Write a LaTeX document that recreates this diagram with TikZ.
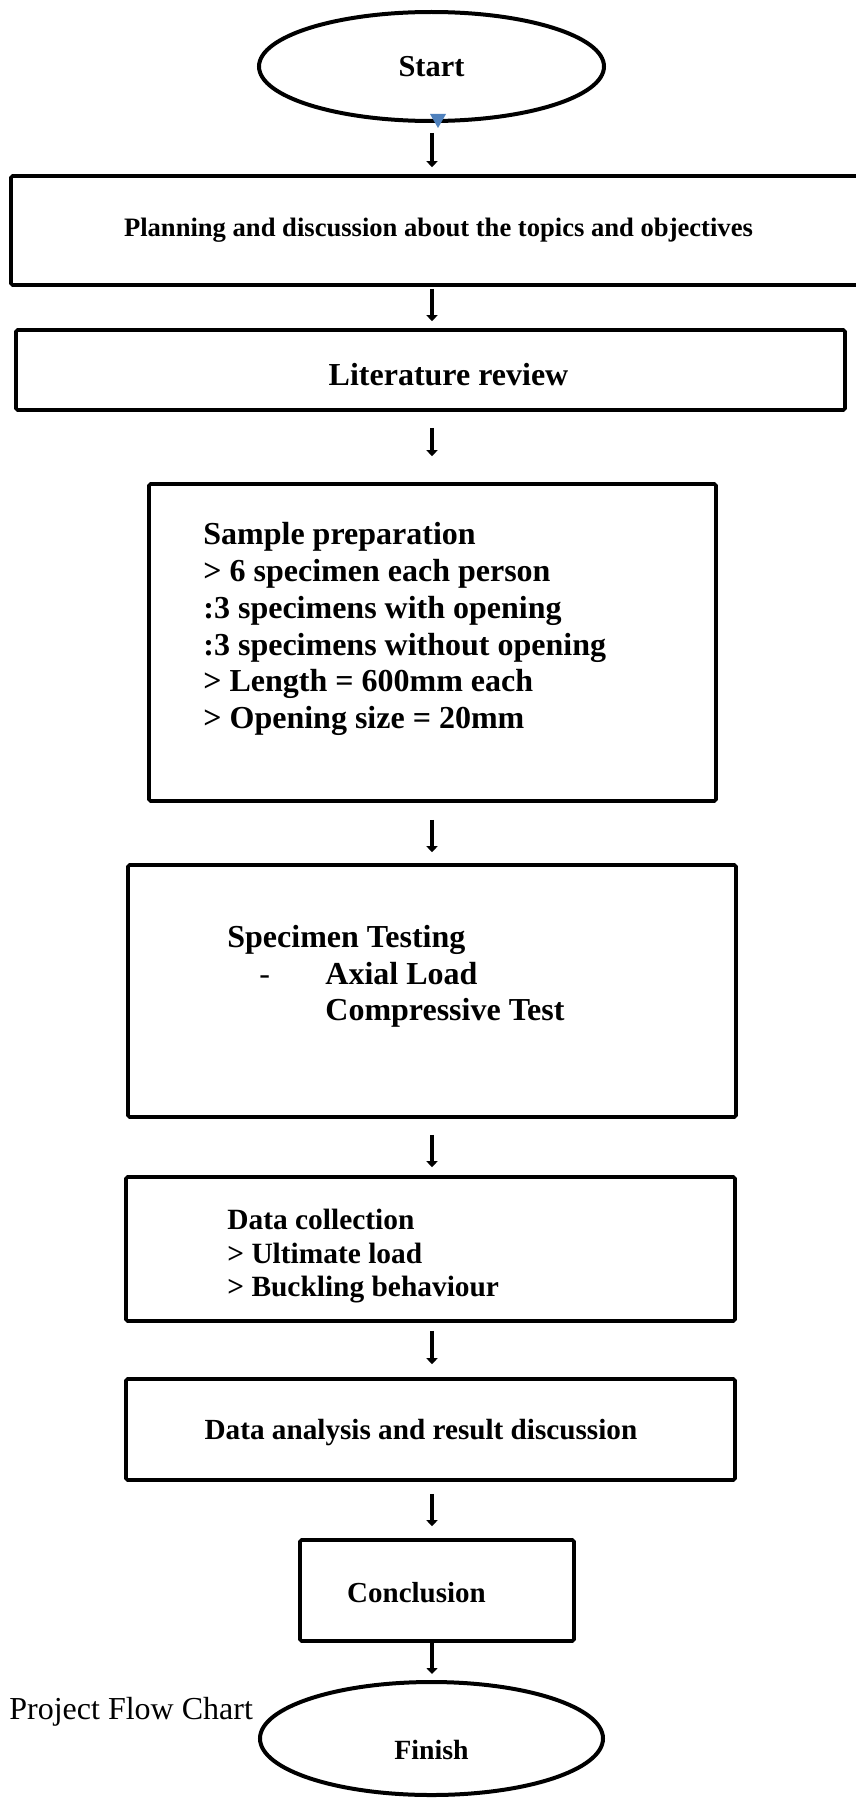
\documentclass[tikz,border=0pt]{standalone}
\usepackage{fontspec}
\setmainfont{Liberation Serif}
\usetikzlibrary{arrows.meta,shapes.geometric}
\definecolor{tipblue}{HTML}{4F81BD}
\tikzset{
  box/.style={draw, line width=1.8pt, rounded corners=0.8pt, inner sep=0pt},
  term/.style={draw, ellipse, line width=2pt, inner sep=0pt},
  flow/.style={-{Triangle[width=5.5pt,length=3pt]}, line width=2.2pt},
  steptext/.style={anchor=north west, inner sep=0pt, align=left}
}
\newcommand{\lowerby}[2]{\raisebox{-#1}[\height][\depth]{#2}}
\begin{document}
\begin{tikzpicture}[x=0.5pt,y=-0.5pt]
  \useasboundingbox (0,0) rectangle (856,1798);
  \coordinate (spine) at (432,0);
  % boxes
  \node[term, minimum width=172.5pt, minimum height=54.5pt,
    font=\fontsize{15.2}{18}\selectfont\bfseries] (start) at (431.5,66.5) {Start};
  \node[box, minimum width=427.5pt, minimum height=54.5pt,
    font=\fontsize{13.3}{16}\selectfont\bfseries] (plan) at (438.5,230.5)
    {Planning and discussion about the topics and objectives};
  \node[box, minimum width=414.5pt, minimum height=40pt,
    font=\fontsize{16}{18.4}\selectfont\bfseries] (lit) at (430.5,370)
    {\hspace*{18pt}\lowerby{2.5pt}{Literature review}};
  \node[box, minimum width=283.5pt, minimum height=158.5pt] (sample) at (432.5,642.5) {};
  \node[box, minimum width=304pt, minimum height=126pt] (spec) at (432,991) {};
  \node[box, minimum width=304.5pt, minimum height=72pt] (collect) at (430.5,1249) {};
  \node[box, minimum width=304.5pt, minimum height=50.5pt,
    font=\fontsize{14.6}{17}\selectfont\bfseries] (analysis) at (430.5,1429.5)
    {\lowerby{1.5pt}{Data analysis and result discussion}\hspace*{9.5pt}};
  \node[box, minimum width=137pt, minimum height=50.5pt,
    font=\fontsize{14.5}{17}\selectfont\bfseries] (concl) at (437,1590.5)
    {\lowerby{1pt}{Conclusion}\hspace*{20.5pt}};
  \node[term, minimum width=171.5pt, minimum height=56.5pt,
    font=\fontsize{13.9}{16}\selectfont\bfseries] (finish) at (431.5,1738.5)
    {\lowerby{5.5pt}{Finish}};
  % texts inside
  \node[steptext, font=\fontsize{16}{18.4}\selectfont\bfseries] (sampletext) at (203,522)
    {Sample preparation\\
     > 6 specimen each person\\
     :3 specimens with opening\\
     :3 specimens without opening\\
     > Length = 600mm each\\
     > Opening size = 20mm};
  \node[steptext, font=\fontsize{16}{18.25}\selectfont\bfseries] (spectext) at (227,925)
    {Specimen Testing\\
     \hspace*{16pt}\makebox[33pt][l]{\mdseries -}Axial Load\\
     \hspace*{49pt}Compressive Test};
  \node[steptext, font=\fontsize{14.7}{16.75}\selectfont\bfseries] (collecttext) at (227,1209)
    {Data collection\\
     > Ultimate load\\
     > Buckling behaviour};
  \node[anchor=base west, inner sep=0pt, font=\fontsize{16}{19}\selectfont] (caption)
    at (9,1719) {Project Flow Chart};
  \fill[tipblue] (start.south) ++(-1.5,-9) -- ++(16,0) -- ++(-8,14) -- cycle;
  % connectors
  \draw[flow, shorten <=5pt, shorten >=3.5pt] (start.south -| spine) -- (plan.north -| spine);
  \draw[flow, shorten <=1pt, shorten >=3.5pt] (plan.south -| spine) -- (lit.north -| spine);
  \draw[flow, shorten <=8pt, shorten >=13pt] (lit.south -| spine) -- (sample.north -| spine);
  \draw[flow, shorten <=8.5pt, shorten >=5.5pt] (sample.south -| spine) -- (spec.north -| spine);
  \draw[flow, shorten <=8pt, shorten >=4pt] (spec.south -| spine) -- (collect.north -| spine);
  \draw[flow, shorten <=4pt, shorten >=6.5pt] (collect.south -| spine) -- (analysis.north -| spine);
  \draw[flow, shorten <=6pt, shorten >=6pt] (analysis.south -| spine) -- (concl.north -| spine);
  \draw[flow, shorten >=3pt] (concl.south -| spine) -- (finish.north -| spine);
\end{tikzpicture}
\end{document}
